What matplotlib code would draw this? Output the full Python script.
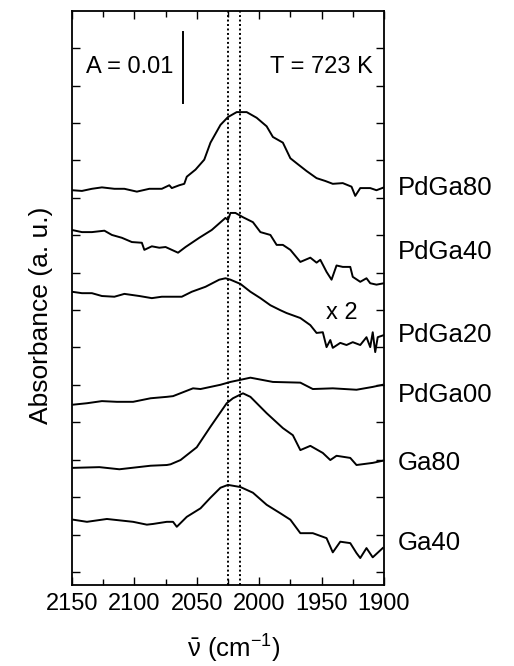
import numpy as np
import matplotlib
matplotlib.use("Agg")
import matplotlib.pyplot as plt
from matplotlib.ticker import MultipleLocator
import matplotlib.transforms as mtransforms

plt.rcParams['font.family'] = ['Liberation Sans', 'DejaVu Sans']
plt.rcParams['mathtext.fontset'] = 'custom'
plt.rcParams['mathtext.rm'] = 'Liberation Sans'
plt.rcParams['mathtext.it'] = 'Liberation Sans'

# spectra (wavenumber / cm-1, absorbance in 1e-3 incl. offset)
pdga80_x = [2150, 2142, 2134, 2126, 2116, 2108, 2098, 2088, 2078, 2072, 2070, 2064, 2060, 2058, 2051,
            2044, 2039, 2031, 2025, 2018, 2010, 2002, 1994, 1989, 1981, 1975, 1970, 1962, 1954, 1947,
            1941, 1933, 1926, 1923, 1919, 1911, 1906, 1900]
pdga80_y = [55.6, 55.5, 55.8, 56.0, 55.8, 55.8, 55.4, 55.8, 55.8, 56.3, 55.9, 56.3, 56.5, 57.5, 58.5,
            59.9, 62.3, 64.8, 65.9, 66.6, 66.6, 65.8, 64.6, 63.1, 62.3, 60.1, 59.4, 58.3, 57.3, 56.9,
            56.5, 56.6, 56.1, 54.8, 55.9, 55.9, 55.6, 56.0]

pdga40_x = [2150, 2142, 2134, 2124, 2118, 2110, 2102, 2094, 2092, 2086, 2080, 2075, 2070, 2065, 2059,
            2048, 2038, 2027, 2025, 2023, 2019, 2013, 2005, 1999, 1991, 1986, 1981, 1975, 1967, 1959,
            1954, 1951, 1946, 1942, 1938, 1933, 1927, 1925, 1919, 1914, 1911, 1906, 1900]
pdga40_y = [50.0, 49.7, 49.7, 49.9, 49.3, 48.9, 48.3, 48.2, 47.2, 47.7, 47.5, 47.6, 47.2, 46.8, 47.6,
            48.9, 50.0, 51.7, 51.4, 52.4, 52.4, 51.8, 51.1, 49.7, 49.3, 47.9, 47.9, 47.2, 45.5, 46.1,
            45.4, 45.8, 44.1, 43.0, 45.0, 44.8, 44.8, 43.4, 42.7, 43.2, 42.5, 42.3, 42.5]

pdga20_x = [2150, 2142, 2134, 2126, 2116, 2108, 2096, 2086, 2078, 2070, 2062, 2054, 2043, 2032, 2027,
            2023, 2015, 2007, 1999, 1991, 1983, 1978, 1967, 1959, 1954, 1949, 1946, 1943, 1941, 1935,
            1930, 1925, 1919, 1914, 1911, 1909, 1907, 1905, 1900]
pdga20_y = [41.3, 41.1, 41.1, 40.7, 40.6, 41.0, 40.7, 40.4, 40.6, 40.6, 40.6, 41.3, 42.0, 43.0, 43.2,
            43.0, 42.4, 41.3, 40.4, 39.4, 38.7, 38.3, 37.6, 36.6, 35.5, 35.6, 33.5, 34.5, 33.4, 34.1,
            33.8, 34.2, 33.8, 34.9, 33.5, 35.6, 32.8, 34.9, 35.2]

pdga00_x = [2149, 2138, 2126, 2114, 2101, 2087, 2074, 2069, 2053, 2047, 2031, 2023, 2007, 1989, 1967,
            1957, 1941, 1922, 1909, 1901]
pdga00_y = [25.4, 25.6, 25.9, 25.8, 25.8, 26.3, 26.5, 26.6, 27.7, 27.6, 28.2, 28.6, 29.2, 28.6, 28.5,
            27.6, 27.7, 27.5, 27.9, 28.2]

ga80_x = [2149, 2128, 2112, 2087, 2074, 2071, 2063, 2050, 2039, 2026, 2021, 2013, 2007, 1994, 1981,
          1973, 1967, 1959, 1949, 1943, 1938, 1927, 1922, 1909, 1901]
ga80_y = [16.5, 16.6, 16.3, 16.8, 16.9, 17.0, 17.6, 19.4, 22.3, 25.6, 26.3, 27.0, 26.5, 24.2, 22.1,
          21.1, 19.0, 19.6, 18.6, 17.6, 18.2, 17.9, 16.9, 17.2, 17.5]

ga40_x = [2149, 2138, 2122, 2101, 2090, 2085, 2074, 2069, 2066, 2058, 2047, 2039, 2031, 2025, 2015,
          2005, 1994, 1983, 1975, 1967, 1957, 1946, 1941, 1935, 1927, 1922, 1919, 1914, 1909, 1901]
ga40_y = [9.2, 8.9, 9.3, 8.9, 8.5, 8.6, 8.9, 8.9, 8.2, 9.6, 10.8, 12.3, 13.7, 14.1, 13.8,
          13.0, 11.3, 10.1, 9.2, 7.3, 7.3, 6.6, 4.6, 6.1, 5.9, 4.5, 3.8, 5.2, 3.9, 5.2]

labels = ["PdGa80", "PdGa40", "PdGa20", "PdGa00", "Ga80", "Ga40"]
label_y = [55.9, 46.9, 35.2, 26.8, 17.2, 5.9]
dashed_x = [2025, 2015]

fig = plt.figure(figsize=(5.14, 6.66), dpi=100)
ax = fig.add_axes([0.140, 0.1216, 0.607, 0.862])

for xs, ys in [(pdga80_x, pdga80_y), (pdga40_x, pdga40_y), (pdga20_x, pdga20_y),
               (pdga00_x, pdga00_y), (ga80_x, ga80_y), (ga40_x, ga40_y)]:
    ax.plot(xs, ys, color='black', lw=1.4, solid_joinstyle='round')

for xd in dashed_x:
    ax.axvline(xd, color='black', ls=(0, (1.0, 1.3)), lw=1.4)

# scale bar A = 0.01
ax.plot([2061, 2061], [67.9, 77.9], color='black', lw=1.4)
ax.text(2069, 73, "A = 0.01", ha='right', va='center', fontsize=17)
ax.text(1909, 73, "T = 723 K", ha='right', va='center', fontsize=17)
ax.text(1934, 38.3, "x 2", ha='center', va='center', fontsize=17)

trans = mtransforms.blended_transform_factory(ax.transAxes, ax.transData)
for lab, yy in zip(labels, label_y):
    ax.text(1.045, yy, lab, transform=trans, ha='left', va='center', fontsize=18.5)

ax.set_xlim(2150, 1900)
ax.set_ylim(0, 80.85)
ax.xaxis.set_major_locator(MultipleLocator(50))
ax.xaxis.set_minor_locator(MultipleLocator(25))
ax.set_yticks(np.arange(1.83, 80, 5.27))
ax.set_yticklabels([])
ax.tick_params(direction='in', top=True, right=True, labelsize=17, width=1.0)
ax.tick_params(which='major', length=6)
ax.tick_params(which='minor', direction='in', top=True, length=4, width=1.0)
ax.tick_params(axis='x', pad=6)
for sp in ax.spines.values():
    sp.set_linewidth(1.3)

ax.set_ylabel("Absorbance (a. u.)", fontsize=19)
ax.yaxis.set_label_coords(-0.062, 0.469)
ax.set_xlabel(r"$\bar{\nu}$ (cm$^{-1}$)", fontsize=18.5)
ax.xaxis.set_label_coords(0.52, -0.083)

fig.savefig("out.png", dpi=100)
